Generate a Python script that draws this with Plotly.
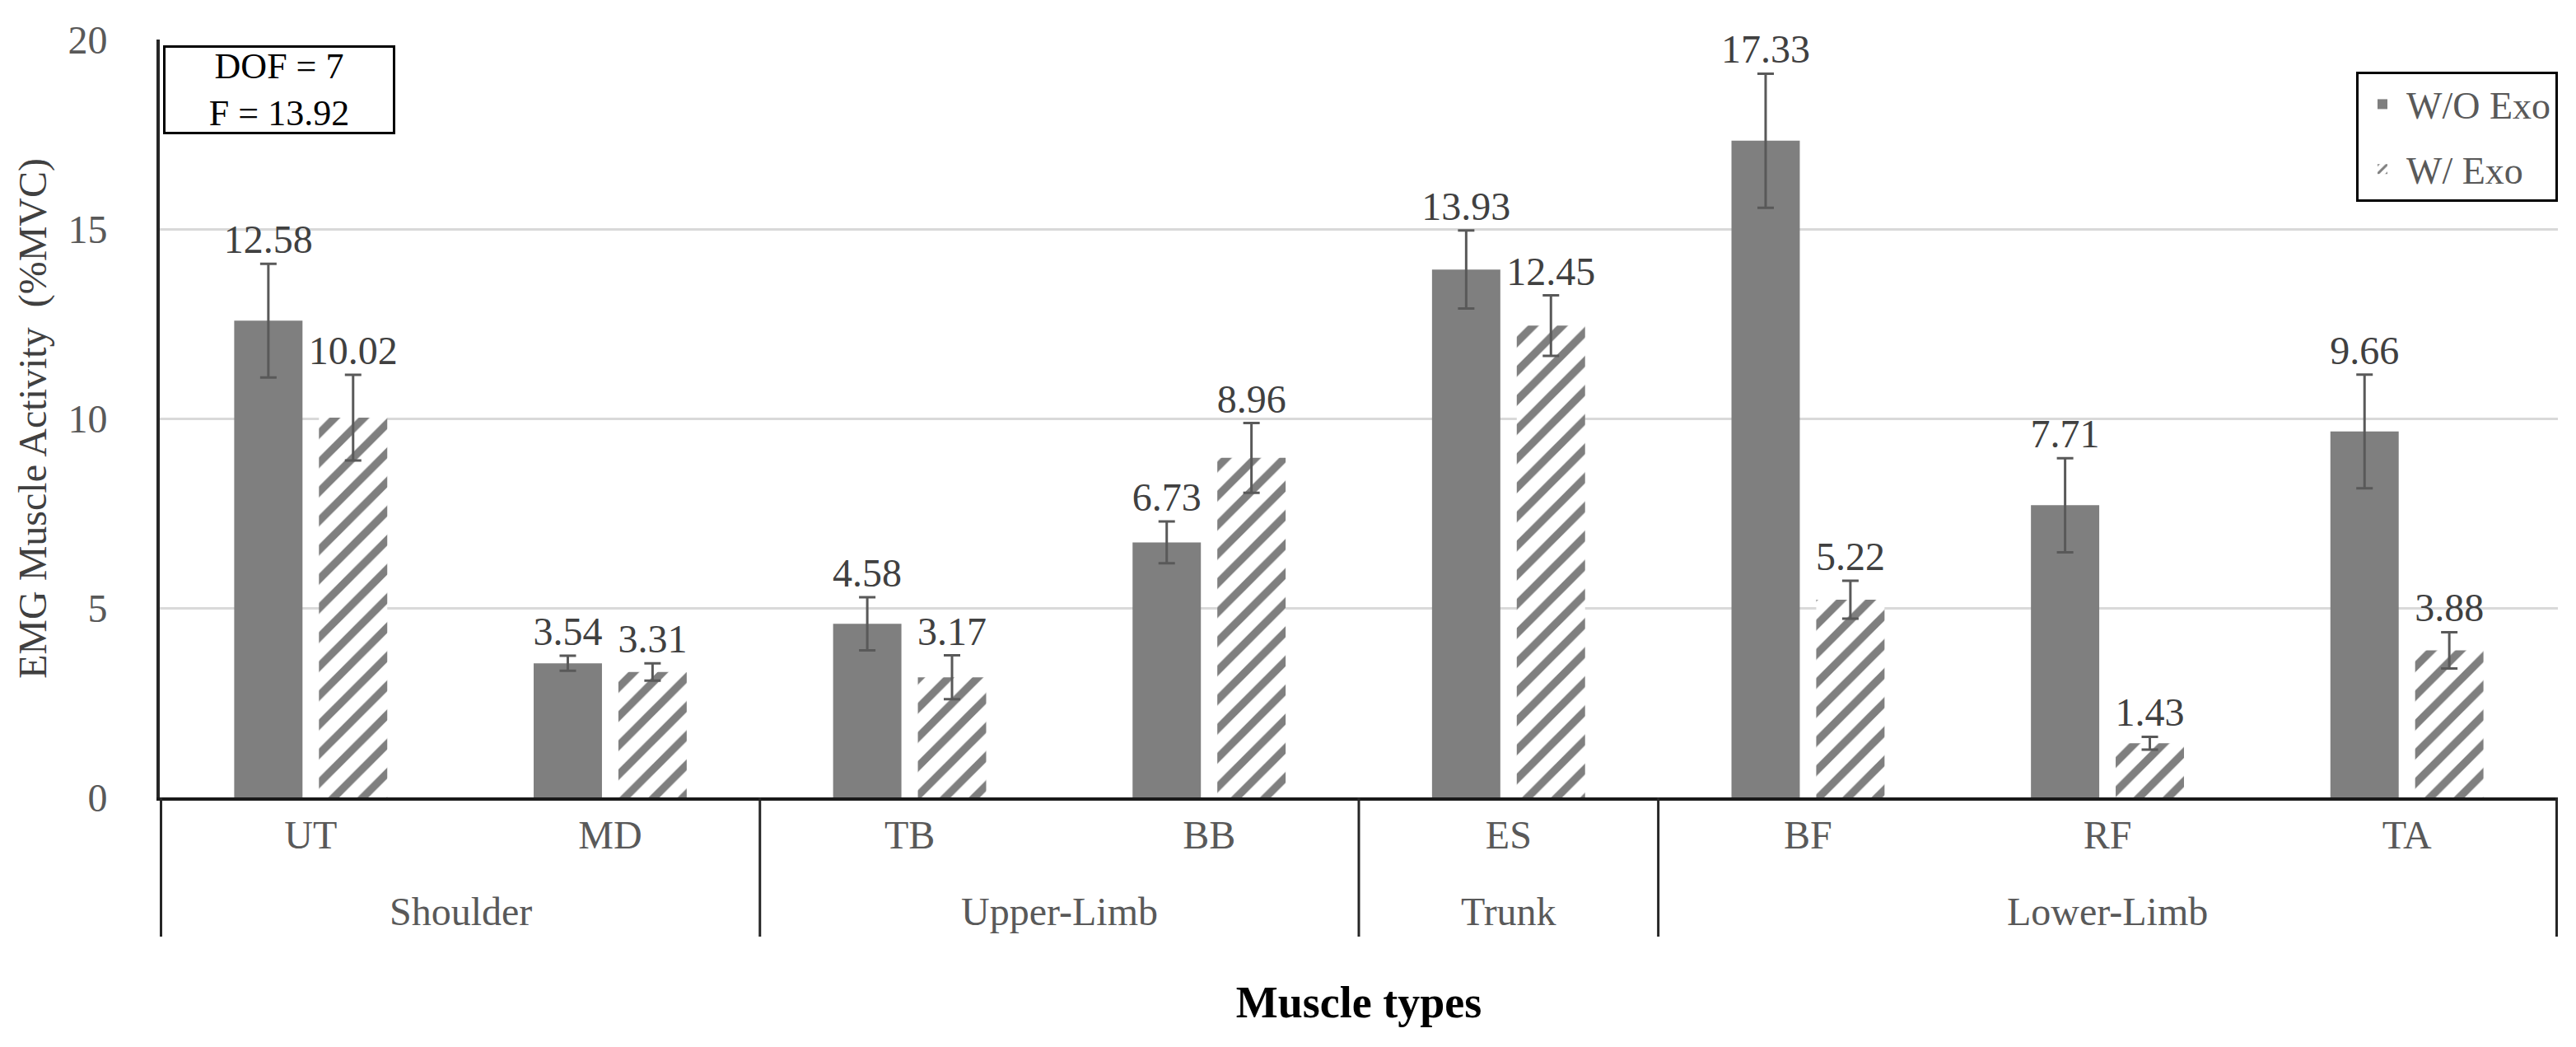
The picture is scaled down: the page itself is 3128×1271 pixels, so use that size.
import plotly.graph_objects as go

# ---- data ----
groups = ["Shoulder", "Shoulder", "Upper-Limb", "Upper-Limb", "Trunk",
          "Lower-Limb", "Lower-Limb", "Lower-Limb"]
muscles = ["UT", "MD", "TB", "BB", "ES", "BF", "RF", "TA"]
wo_exo = [12.58, 3.54, 4.58, 6.73, 13.93, 17.33, 7.71, 9.66]
wo_exo_err = [1.50, 0.20, 0.70, 0.55, 1.03, 1.77, 1.24, 1.50]
w_exo = [10.02, 3.31, 3.17, 8.96, 12.45, 5.22, 1.43, 3.88]
w_exo_err = [1.13, 0.23, 0.58, 0.92, 0.80, 0.50, 0.17, 0.48]
series_names = ["W/O Exo", "W/ Exo"]
y_ticks = [0, 5, 10, 15, 20]
dof = 7
f_value = 13.92

SERIF = "Liberation Serif"
BAR_GRAY = "#7f7f7f"
ERR_GRAY = "#595959"
TXT_GRAY = "#595959"
LINE_DARK = "#262626"

fig = go.Figure()

fig.add_trace(go.Bar(
    name=series_names[0], x=muscles, y=wo_exo,
    marker=dict(color=BAR_GRAY, line=dict(width=0)),
    error_y=dict(type="data", array=wo_exo_err, color=ERR_GRAY, thickness=3, width=10),
    offsetgroup="a", legendgroup="a", hoverinfo="skip",
))
fig.add_trace(go.Bar(
    name=series_names[1], x=muscles, y=w_exo,
    marker=dict(color=BAR_GRAY, line=dict(width=0),
                pattern=dict(shape="/", fgcolor=BAR_GRAY, bgcolor="white",
                             fgopacity=1, size=25, solidity=0.38)),
    error_y=dict(type="data", array=w_exo_err, color=ERR_GRAY, thickness=3, width=10),
    offsetgroup="b", legendgroup="b", hoverinfo="skip",
))

# value labels placed above the error bars (transparent helper bars)
label_font = dict(family=SERIF, size=48, color="#404040")
for vals, errs, grp in [(wo_exo, wo_exo_err, "a"), (w_exo, w_exo_err, "b")]:
    fig.add_trace(go.Bar(
        x=muscles, y=[v + e for v, e in zip(vals, errs)],
        text=[f"{v:.2f}" for v in vals], textposition="outside",
        textfont=label_font, outsidetextfont=label_font,
        constraintext="none", cliponaxis=False,
        marker=dict(color="rgba(0,0,0,0)", line=dict(width=0)),
        offsetgroup=grp, showlegend=False, hoverinfo="skip",
    ))

# group level of the category axis: labels + dividers derived from `groups`
shapes = []
annotations = []
group_order = []
for g in groups:
    if g not in group_order:
        group_order.append(g)
bounds = []
for g in group_order:
    idx = [i for i, gg in enumerate(groups) if gg == g]
    bounds.append(idx[0] - 0.5)
    annotations.append(dict(
        xref="x", yref="paper", x=sum(idx) / len(idx), y=-0.150,
        xanchor="center", yanchor="middle", text=g, showarrow=False,
        font=dict(family=SERIF, size=48, color=TXT_GRAY),
    ))
bounds.append(len(groups) - 0.5)
for b in bounds:
    shapes.append(dict(
        type="line", xref="x", yref="paper", x0=b, x1=b, y0=0, y1=-0.1837,
        line=dict(color=LINE_DARK, width=3),
    ))

annotations.append(dict(
    xref="paper", yref="paper", x=0.0014, y=0.992,
    xanchor="left", yanchor="top",
    text=f"DOF = {dof}<br>F = {f_value:.2f}",
    showarrow=False, align="center",
    font=dict(family=SERIF, size=44, color="#000000"),
    bordercolor="#000000", borderwidth=3, borderpad=3,
    bgcolor="white", width=270, height=96,
))

fig.update_layout(
    width=3128, height=1271,
    margin=dict(l=186, r=30, t=40, b=311, autoexpand=False),
    paper_bgcolor="white", plot_bgcolor="white",
    barmode="group", bargap=0.434, bargroupgap=0.194,
    font=dict(family=SERIF, size=48, color=TXT_GRAY),
    showlegend=True,
    legend=dict(
        x=1.0, xanchor="right", y=0.9576, yanchor="top",
        bordercolor="#000000", borderwidth=3, bgcolor="white",
        font=dict(family=SERIF, size=46, color=TXT_GRAY),
        tracegroupgap=16, traceorder="grouped", itemwidth=48,
    ),
    xaxis=dict(
        type="category",
        showline=True, linecolor="#1a1a1a", linewidth=4,
        showgrid=False, ticks="",
        tickfont=dict(family=SERIF, size=48, color=TXT_GRAY),
        title=dict(text="<b>Muscle types</b>", standoff=160,
                   font=dict(family=SERIF, size=54, color="#000000")),
        automargin=False,
    ),
    yaxis=dict(
        range=[0, 20], tickvals=y_ticks,
        showgrid=True, gridcolor="#d9d9d9", gridwidth=3,
        showline=True, linecolor=LINE_DARK, linewidth=4,
        zeroline=False, ticks="",
        ticklabelstandoff=50,
        tickfont=dict(family=SERIF, size=48, color=TXT_GRAY),
        title=dict(text="EMG Muscle Activity \u00a0(%MVC)", standoff=12,
                   font=dict(family=SERIF, size=48, color="#404040")),
        automargin=False,
    ),
    shapes=shapes,
    annotations=annotations,
)

fig.write_html("out.html")
